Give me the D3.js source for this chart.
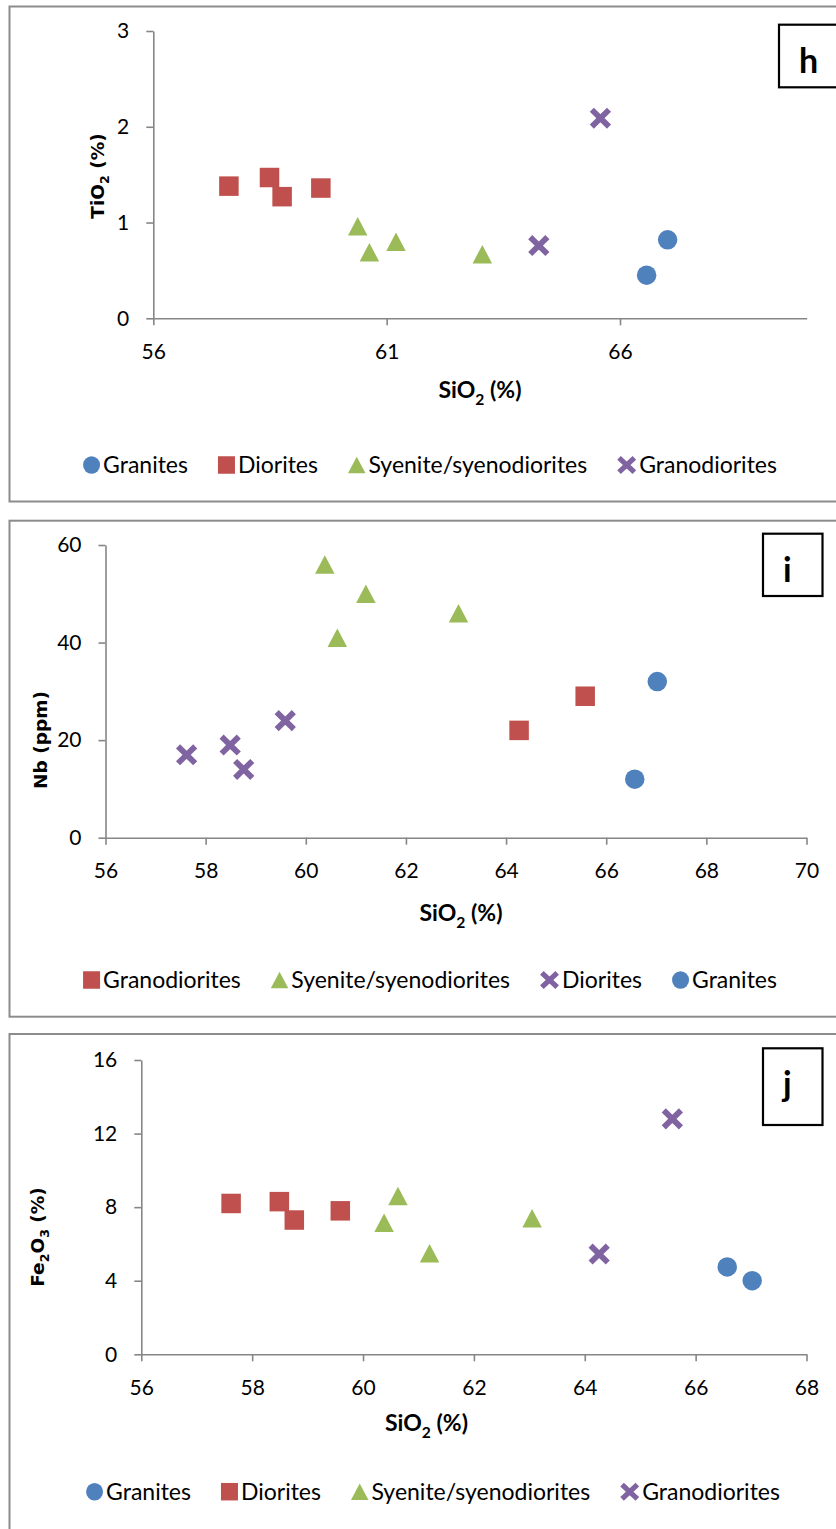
<!DOCTYPE html>
<html>
<head>
<meta charset="utf-8">
<script src="https://cdn.jsdelivr.net/npm/d3@7"></script>
<style>
  body { margin: 0; background: #fff; }
  svg { display: block; }
</style>
</head>
<body>
<svg id="chart" width="836" height="1529"></svg>
<script>
// SiO2 (%) of each rock group, shared by all three diagrams
const sio2Diorites = [57.62, 58.49, 58.76, 59.59];
const sio2Syenites = [60.38, 60.63, 61.20, 63.05];
const sio2Granodiorites = [64.26, 65.58];
const sio2Granites = [66.57, 67.02];

// TiO2 (%)
const tio2Granites = [0.45, 0.82];
const tio2Diorites = [1.38, 1.47, 1.27, 1.36];
const tio2Syenites = [0.96, 0.69, 0.80, 0.67];
const tio2Granodiorites = [0.76, 2.09];

// Nb (ppm)
const nbGranodiorites = [22, 29];
const nbSyenites = [56, 41, 50, 46];
const nbDiorites = [17, 19, 14, 24];
const nbGranites = [12, 32];

// Fe2O3 (%)
const fe2o3Granites = [4.75, 4.0];
const fe2o3Diorites = [8.2, 8.3, 7.3, 7.8];
const fe2o3Syenites = [7.15, 8.6, 5.5, 7.4];
const fe2o3Granodiorites = [5.45, 12.8];

// Axis ticks
const xTicksH = [56, 61, 66];
const yTicksH = [0, 1, 2, 3];
const xTicksI = [56, 58, 60, 62, 64, 66, 68, 70];
const yTicksI = [0, 20, 40, 60];
const xTicksJ = [56, 58, 60, 62, 64, 66, 68];
const yTicksJ = [0, 4, 8, 12, 16];

// Series names
const nameGranites = "Granites";
const nameDiorites = "Diorites";
const nameSyenites = "Syenite/syenodiorites";
const nameGranodiorites = "Granodiorites";

const BLUE = "#4F81BD", RED = "#C0504D", GREEN = "#9BBB59", PURPLE = "#8064A2";
const AXIS_COLOR = "#868686";
const FRAME_COLOR = "#8c8c8c";
const FONT = "Lato, 'Open Sans', sans-serif";
const TITLE_FONT = "'DejaVu Sans', Verdana, sans-serif";

const panels = [
  {
    letter: "h",
    frame: { top: 6.5, bottom: 501.5 },
    plot: { left: 153.3, right: 806.7, top: 31, bottom: 318.3 },
    xDomain: [56, 70], xTicks: xTicksH,
    yDomain: [0, 3], yTicks: yTicksH,
    xTitle: { cx: 480, cy: 390 },
    yTitle: { cx: 97, cy: 176, parts: [["TiO"], ["2", true], [" (%)"]] },
    legend: { cx: 430, cy: 465 },
    box: { x: 779, y: 24.7, w: 66, h: 62.6 },
    series: [
      { name: nameGranites, marker: "circle", color: BLUE, x: sio2Granites, y: tio2Granites },
      { name: nameDiorites, marker: "square", color: RED, x: sio2Diorites, y: tio2Diorites },
      { name: nameSyenites, marker: "triangle", color: GREEN, x: sio2Syenites, y: tio2Syenites },
      { name: nameGranodiorites, marker: "cross", color: PURPLE, x: sio2Granodiorites, y: tio2Granodiorites }
    ]
  },
  {
    letter: "i",
    frame: { top: 520.7, bottom: 1016.7 },
    plot: { left: 105.5, right: 806.5, top: 545, bottom: 837.7 },
    xDomain: [56, 70], xTicks: xTicksI,
    yDomain: [0, 60], yTicks: yTicksI,
    xTitle: { cx: 461, cy: 913 },
    yTitle: { cx: 40, cy: 740, parts: [["Nb (ppm)"]] },
    legend: { cx: 430, cy: 980 },
    box: { x: 763, y: 533.7, w: 59.5, h: 62.3 },
    series: [
      { name: nameGranodiorites, marker: "square", color: RED, x: sio2Granodiorites, y: nbGranodiorites },
      { name: nameSyenites, marker: "triangle", color: GREEN, x: sio2Syenites, y: nbSyenites },
      { name: nameDiorites, marker: "cross", color: PURPLE, x: sio2Diorites, y: nbDiorites },
      { name: nameGranites, marker: "circle", color: BLUE, x: sio2Granites, y: nbGranites }
    ]
  },
  {
    letter: "j",
    frame: { top: 1034, bottom: 1540 },
    plot: { left: 141.3, right: 806.5, top: 1060, bottom: 1354.3 },
    xDomain: [56, 68], xTicks: xTicksJ,
    yDomain: [0, 16], yTicks: yTicksJ,
    xTitle: { cx: 426.5, cy: 1423 },
    yTitle: { cx: 37, cy: 1237, parts: [["Fe"], ["2", true], ["O"], ["3", true], [" (%)"]] },
    legend: { cx: 433, cy: 1491.7 },
    box: { x: 763, y: 1048.3, w: 59.5, h: 76.7 },
    series: [
      { name: nameGranites, marker: "circle", color: BLUE, x: sio2Granites, y: fe2o3Granites },
      { name: nameDiorites, marker: "square", color: RED, x: sio2Diorites, y: fe2o3Diorites },
      { name: nameSyenites, marker: "triangle", color: GREEN, x: sio2Syenites, y: fe2o3Syenites },
      { name: nameGranodiorites, marker: "cross", color: PURPLE, x: sio2Granodiorites, y: fe2o3Granodiorites }
    ]
  }
];

// Marker sizes in the plot area and in the legend
const plotMarker = {
  circle: { w: 19.5, h: 19.5 }, square: { w: 19.5, h: 19.5 },
  triangle: { w: 19.5, h: 18.5 }, cross: { w: 21.3, h: 21 }
};
const legendMarker = {
  circle: { w: 17, h: 17.5 }, square: { w: 17, h: 17.5 },
  triangle: { w: 17.5, h: 16.5 }, cross: { w: 19, h: 18 }
};

function addMarker(g, type, color, cx, cy, size) {
  if (type === "circle") {
    g.append("ellipse").attr("cx", cx).attr("cy", cy)
      .attr("rx", size.w / 2).attr("ry", size.h / 2).attr("fill", color);
  } else if (type === "square") {
    g.append("rect").attr("x", cx - size.w / 2).attr("y", cy - size.h / 2)
      .attr("width", size.w).attr("height", size.h).attr("fill", color);
  } else if (type === "triangle") {
    g.append("path")
      .attr("d", `M${cx},${cy - size.h / 2}L${cx + size.w / 2},${cy + size.h / 2}L${cx - size.w / 2},${cy + size.h / 2}Z`)
      .attr("fill", color);
  } else if (type === "cross") {
    const sw = size.w > 20 ? 5.8 : 5.2;
    const a = size.w / 2 - sw * 0.354, b = size.h / 2 - sw * 0.354;
    g.append("path")
      .attr("d", `M${cx - a},${cy - b}L${cx + a},${cy + b}M${cx + a},${cy - b}L${cx - a},${cy + b}`)
      .attr("stroke", color).attr("stroke-width", sw).attr("fill", "none");
  }
}

function addRichText(text, parts, fontSize) {
  const sub = fontSize * 0.3;
  let shifted = false;
  parts.forEach(([str, isSub]) => {
    const t = text.append("tspan").text(str);
    if (isSub) {
      t.attr("font-size", fontSize * 0.68).attr("dy", shifted ? 0 : sub);
      shifted = true;
    } else {
      t.attr("dy", shifted ? -sub : 0);
      shifted = false;
    }
  });
}

const svg = d3.select("#chart");

panels.forEach(p => {
  const g = svg.append("g");

  // Outer chart frame (its right edge runs past the page)
  g.append("rect")
    .attr("x", 9.5).attr("y", p.frame.top)
    .attr("width", 850).attr("height", p.frame.bottom - p.frame.top)
    .attr("fill", "#fff").attr("stroke", FRAME_COLOR).attr("stroke-width", 2);

  const x = d3.scaleLinear().domain(p.xDomain).range([p.plot.left, p.plot.right]);
  const y = d3.scaleLinear().domain(p.yDomain).range([p.plot.bottom, p.plot.top]);

  const xAxis = g.append("g")
    .attr("transform", `translate(0,${p.plot.bottom})`)
    .call(d3.axisBottom(x).tickValues(p.xTicks).tickSize(7).tickPadding(18.5).tickSizeOuter(0).tickFormat(d3.format("d")));
  const yAxis = g.append("g")
    .attr("transform", `translate(${p.plot.left},0)`)
    .call(d3.axisLeft(y).tickValues(p.yTicks).tickSize(7).tickPadding(17).tickSizeOuter(0).tickFormat(d3.format("d")));

  [xAxis, yAxis].forEach(a => {
    a.select(".domain").attr("stroke", AXIS_COLOR).attr("stroke-width", 1.6);
    a.selectAll(".tick line").attr("stroke", AXIS_COLOR).attr("stroke-width", 1.6);
    a.selectAll(".tick text").attr("fill", "#000")
      .attr("font-family", FONT).attr("font-size", 21);
  });

  // Axis titles
  const xtSize = 23;
  const xt = g.append("text")
    .attr("x", p.xTitle.cx).attr("y", p.xTitle.cy + 8)
    .attr("text-anchor", "middle")
    .attr("font-family", FONT).attr("font-weight", "bold").attr("font-size", xtSize);
  addRichText(xt, [["SiO"], ["2", true], [" (%)"]], xtSize);

  const ytSize = 18.5;
  const yt = g.append("text")
    .attr("transform", `translate(${p.yTitle.cx + ytSize * 0.36},${p.yTitle.cy}) rotate(-90)`)
    .attr("text-anchor", "middle")
    .attr("font-family", TITLE_FONT).attr("font-weight", "bold").attr("font-size", ytSize);
  addRichText(yt, p.yTitle.parts, ytSize);

  // Data points
  p.series.forEach(s => {
    const sg = g.append("g");
    d3.zip(s.x, s.y).forEach(([vx, vy]) => {
      addMarker(sg, s.marker, s.color, x(vx), y(vy), plotMarker[s.marker]);
    });
  });

  // Legend, centred under the plot
  const lgSize = 23;
  const lg = g.append("g");
  let cursor = 0;
  p.series.forEach((s, i) => {
    const ms = legendMarker[s.marker];
    addMarker(lg, s.marker, s.color, cursor + ms.w / 2, p.legend.cy, ms);
    cursor += ms.w + 3;
    const t = lg.append("text")
      .attr("x", cursor).attr("y", p.legend.cy + lgSize * 0.36)
      .attr("font-family", FONT).attr("font-size", lgSize).attr("fill", "#000")
      .text(s.name);
    cursor += t.node().getComputedTextLength();
    if (i < p.series.length - 1) cursor += 30;
  });
  lg.attr("transform", `translate(${p.legend.cx - cursor / 2},0)`);

  // Panel letter box
  g.append("rect")
    .attr("x", p.box.x).attr("y", p.box.y)
    .attr("width", p.box.w).attr("height", p.box.h)
    .attr("fill", "#fff").attr("stroke", "#000").attr("stroke-width", 2.2);
  g.append("text")
    .attr("x", p.box.x + 20).attr("y", p.box.y + 48)
    .attr("font-family", FONT).attr("font-weight", "bold").attr("font-size", 34)
    .attr("fill", "#000")
    .text(p.letter);
});
</script>
</body>
</html>
